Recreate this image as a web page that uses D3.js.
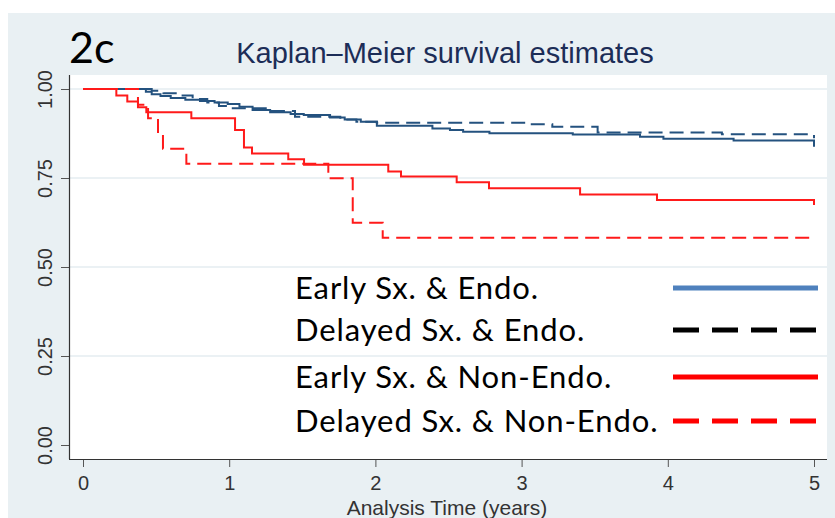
<!DOCTYPE html>
<html>
<head>
<meta charset="utf-8">
<script src="https://cdnjs.cloudflare.com/ajax/libs/d3/7.8.5/d3.min.js"></script>
<style>
  html, body { margin: 0; padding: 0; background: #fff; }
  svg { display: block; }
</style>
</head>
<body>
<div id="chart"></div>
<script>
var width = 835;
var height = 518;

// data
var timeTicks = [0, 1, 2, 3, 4, 5];
var survTicks = [0, 0.25, 0.5, 0.75, 1];
var gridTicks = [0.25, 0.5, 0.75, 1];
var groups = ["Early Sx. & Endo.", "Delayed Sx. & Endo.", "Early Sx. & Non-Endo.", "Delayed Sx. & Non-Endo."];

var earlyEndoT = [0, 0.43, 0.47, 0.53, 0.60, 0.70, 0.80, 0.90, 0.99, 1.07, 1.16, 1.28, 1.42, 1.51, 1.69, 1.79, 1.90, 2.01, 2.39, 2.51, 2.60, 2.78, 3.35, 3.81, 3.97, 4.45, 5.0];
var earlyEndoS = [1, 0.992, 0.985, 0.980, 0.975, 0.970, 0.966, 0.962, 0.958, 0.950, 0.941, 0.935, 0.930, 0.927, 0.920, 0.914, 0.908, 0.897, 0.889, 0.885, 0.880, 0.876, 0.872, 0.866, 0.860, 0.855, 0.838];

var delayedEndoT = [0, 0.47, 0.55, 0.66, 0.75, 0.85, 0.93, 1.00, 1.25, 1.45, 1.76, 1.87, 2.01, 3.04, 3.21, 3.52, 4.37, 5.0];
var delayedEndoS = [1, 0.995, 0.988, 0.982, 0.972, 0.962, 0.952, 0.946, 0.938, 0.922, 0.914, 0.908, 0.905, 0.901, 0.894, 0.878, 0.873, 0.862];

var earlyNonT = [0, 0.228, 0.303, 0.376, 0.433, 0.741, 1.040, 1.101, 1.156, 1.404, 1.512, 2.088, 2.175, 2.556, 2.777, 3.400, 3.926, 5.0];
var earlyNonS = [1, 0.982, 0.965, 0.949, 0.935, 0.918, 0.885, 0.836, 0.819, 0.803, 0.787, 0.768, 0.754, 0.738, 0.721, 0.704, 0.688, 0.674];

var delayedNonT = [0, 0.376, 0.445, 0.513, 0.547, 0.707, 1.678, 1.845, 2.050, 5.0];
var delayedNonS = [1, 0.956, 0.918, 0.874, 0.832, 0.790, 0.749, 0.624, 0.582, 0.582];

var series = [
  {name: groups[0], t: earlyEndoT, s: earlyEndoS, color: "#24527f", dash: null},
  {name: groups[1], t: delayedEndoT, s: delayedEndoS, color: "#24527f", dash: "14,7"},
  {name: groups[2], t: earlyNonT, s: earlyNonS, color: "#ff1a1a", dash: null},
  {name: groups[3], t: delayedNonT, s: delayedNonS, color: "#ff1a1a", dash: "14,7"}
];

var legendColors = ["#4f81bd", "#000000", "#ff0000", "#ff0000"];
var legendDash = [null, "26,13", null, "26,13"];

var svg = d3.select("#chart").append("svg")
  .attr("width", width)
  .attr("height", height);

//outer graph region
svg.append("rect")
  .attr("x", 8)
  .attr("y", 13)
  .attr("width", width - 8)
  .attr("height", height - 13)
  .attr("fill", "#e9f0f3");

//plot region
var plotLeft = 69, plotRight = 827, plotTop = 75, plotBottom = 459;
svg.append("rect")
  .attr("x", plotLeft)
  .attr("y", plotTop)
  .attr("width", plotRight - plotLeft)
  .attr("height", plotBottom - plotTop)
  .attr("fill", "#ffffff");

var x = d3.scaleLinear().domain([0, 5]).range([83, 814]);
var y = d3.scaleLinear().domain([0, 1]).range([445, 89]);

//grid lines
svg.append("g")
  .selectAll("line")
  .data(gridTicks)
  .join("line")
  .attr("x1", plotLeft)
  .attr("x2", plotRight)
  .attr("y1", function(d){ return y(d); })
  .attr("y2", function(d){ return y(d); })
  .attr("stroke", "#e4edf0")
  .attr("stroke-width", 1.5);

//y axis
var yAxis = svg.append("g")
  .attr("transform", "translate(" + plotLeft + ",0)")
  .call(d3.axisLeft(y).tickValues(survTicks).tickFormat(d3.format(".2f")).tickSizeOuter(0).tickSize(8));
yAxis.select(".domain").remove();
yAxis.selectAll(".tick line").attr("stroke", "#555");
yAxis.selectAll(".tick text")
  .attr("transform", "rotate(-90)")
  .attr("x", 0)
  .attr("y", -17)
  .attr("dy", 0)
  .attr("text-anchor", "middle")
  .attr("font-family", "Liberation Sans, Arial, sans-serif")
  .attr("font-size", 20)
  .attr("fill", "#333");

//x axis
var xAxis = svg.append("g")
  .attr("transform", "translate(0," + plotBottom + ")")
  .call(d3.axisBottom(x).tickValues(timeTicks).tickFormat(d3.format("d")).tickSizeOuter(0).tickSize(8));
xAxis.select(".domain").remove();
xAxis.selectAll(".tick line").attr("stroke", "#555");
xAxis.selectAll(".tick text")
  .attr("y", 31)
  .attr("dy", 0)
  .attr("font-family", "Liberation Sans, Arial, sans-serif")
  .attr("font-size", 20)
  .attr("fill", "#333");

//axis lines
svg.append("line")
  .attr("x1", plotLeft + 0.5)
  .attr("x2", plotLeft + 0.5)
  .attr("y1", plotTop)
  .attr("y2", plotBottom)
  .attr("stroke", "#333")
  .attr("stroke-width", 1.2);
svg.append("line")
  .attr("x1", plotLeft)
  .attr("x2", plotRight)
  .attr("y1", plotBottom + 0.5)
  .attr("y2", plotBottom + 0.5)
  .attr("stroke", "#333")
  .attr("stroke-width", 1.2);

//survival curves
var line = d3.line()
  .x(function(d){ return x(d[0]); })
  .y(function(d){ return y(d[1]); })
  .curve(d3.curveStepAfter);

svg.append("g")
  .selectAll("path")
  .data(series)
  .join("path")
  .attr("d", function(d){ return line(d3.zip(d.t, d.s)); })
  .attr("fill", "none")
  .attr("stroke", function(d){ return d.color; })
  .attr("stroke-width", 2)
  .attr("stroke-dasharray", function(d){ return d.dash; });

//titles
svg.append("text")
  .attr("x", 69)
  .attr("y", 63)
  .attr("font-family", "Lato, sans-serif")
  .attr("font-size", 43)
  .attr("fill", "#000")
  .text("2c");

svg.append("text")
  .attr("x", 445)
  .attr("y", 63)
  .attr("text-anchor", "middle")
  .attr("font-family", "Liberation Sans, Arial, sans-serif")
  .attr("font-size", 29)
  .attr("fill", "#1c2d57")
  .text("Kaplan\u2013Meier survival estimates");

svg.append("text")
  .attr("x", 447)
  .attr("y", 515)
  .attr("text-anchor", "middle")
  .attr("font-family", "Liberation Sans, Arial, sans-serif")
  .attr("font-size", 21)
  .attr("fill", "#333")
  .text("Analysis Time (years)");

//legend
var legendY = [288, 330, 377, 421];
var legend = svg.append("g");

legend.selectAll("text")
  .data(groups)
  .join("text")
  .attr("x", 295)
  .attr("y", function(d, i){ return legendY[i] + 11; })
  .attr("font-family", "Lato, sans-serif")
  .attr("font-size", 31)
  .attr("letter-spacing", 0.9)
  .attr("fill", "#000")
  .text(function(d){ return d; });

legend.selectAll("line")
  .data(groups)
  .join("line")
  .attr("x1", 673)
  .attr("x2", 818)
  .attr("y1", function(d, i){ return legendY[i]; })
  .attr("y2", function(d, i){ return legendY[i]; })
  .attr("stroke", function(d, i){ return legendColors[i]; })
  .attr("stroke-width", 5)
  .attr("stroke-dasharray", function(d, i){ return legendDash[i]; });
</script>
</body>
</html>
